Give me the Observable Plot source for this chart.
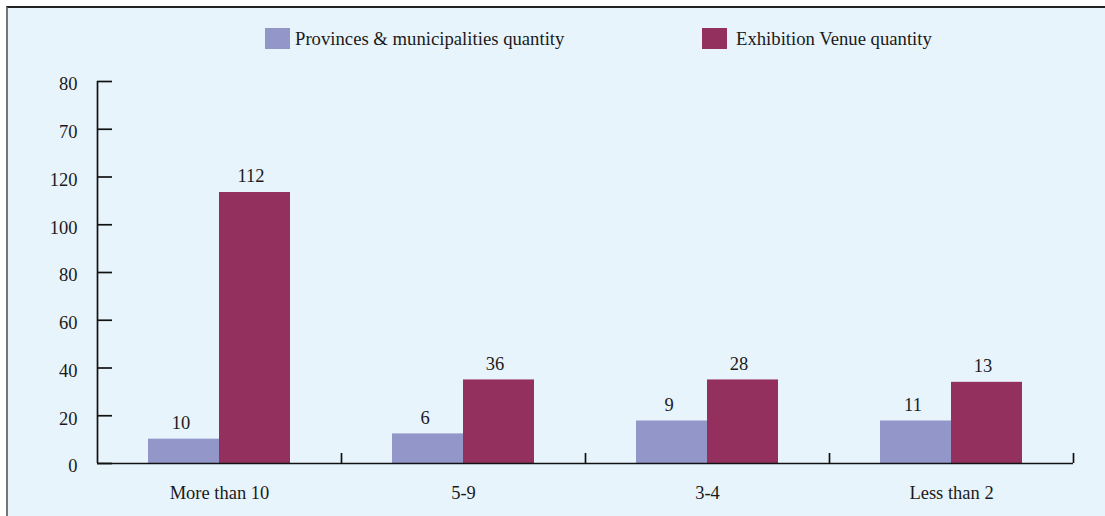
<!DOCTYPE html>
<html><head><meta charset="utf-8">
<script src="https://cdn.jsdelivr.net/npm/d3@7"></script>
<script src="https://cdn.jsdelivr.net/npm/@observablehq/plot@0.6"></script>
<style>
html,body{margin:0;padding:0;background:#fff;}
#frame{position:absolute;left:6px;top:6px;width:1097px;height:508px;border-top:2px solid #222;border-left:2px solid #777;background:#e8f4fc;font-family:"Liberation Serif","Times New Roman",serif;color:#1a1a1a;overflow:hidden;}
.leg{position:absolute;top:20px;height:21px;display:flex;align-items:center;font-size:18.7px;white-space:nowrap;}
.sw{width:25px;height:21px;margin-right:5px;flex:none;}
#chart{position:absolute;left:0;top:60px;}
</style></head>
<body>
<div id="frame">
  <div class="leg" style="left:257px"><div class="sw" style="background:#9296c8"></div><span>Provinces &amp; municipalities quantity</span></div>
  <div class="leg" style="left:694px"><div class="sw" style="background:#93305e;margin-right:9px"></div><span>Exhibition Venue quantity</span></div>
  <div id="chart"></div>
</div>
<script>
const categories = ["More than 10", "5-9", "3-4", "Less than 2"];
const seriesNames = ["Provinces & municipalities quantity", "Exhibition Venue quantity"];
// printed value labels
const provincesLabel = [10, 6, 9, 11];
const venueLabel = [112, 36, 28, 13];
// bar heights as drawn against the axis
const provincesBar = [10.2, 12.4, 17.8, 17.8];
const venueBar = [113.5, 35, 35, 34];
// y-axis tick positions and their printed labels
const yTickValues = [0, 20, 40, 60, 80, 100, 120, 140, 160];
const yTickLabels = ["0", "20", "40", "60", "80", "100", "120", "70", "80"];
const colors = ["#9296c8", "#93305e"];

const prov = categories.map((c, i) => ({cat: c, series: seriesNames[0], h: provincesBar[i], label: provincesLabel[i]}));
const ven = categories.map((c, i) => ({cat: c, series: seriesNames[1], h: venueBar[i], label: venueLabel[i]}));

const chart = Plot.plot({
  width: 1097, height: 448,
  marginLeft: 89, marginRight: 32, marginTop: 13, marginBottom: 53,
  style: {background: "transparent", fontFamily: '"Liberation Serif","Times New Roman",serif', fontSize: "18.5px", color: "#1a1a1a"},
  x: {domain: categories, padding: 0, axis: null, label: null},
  y: {domain: [0, 160], axis: null, label: null},
  marks: [
    Plot.barY(prov, {x: "cat", y: "h", fill: colors[0], insetLeft: 51, insetRight: 122}),
    Plot.barY(ven, {x: "cat", y: "h", fill: colors[1], insetLeft: 122, insetRight: 51}),
    Plot.text(prov, {x: "cat", y: "h", text: "label", dx: -38.5, dy: -16, fontSize: 18.5}),
    Plot.text(ven, {x: "cat", y: "h", text: "label", dx: 31.5, dy: -16, fontSize: 18.5}),
    Plot.ruleY([0], {strokeWidth: 1.7, stroke: "#111"}),
    Plot.ruleX([categories[0]], {dx: -122, y1: 0, y2: 160, strokeWidth: 1.7, stroke: "#111"}),
    Plot.ruleX(categories, {dx: 122, y1: 0, y2: 0, insetTop: -10, strokeWidth: 1.7, stroke: "#111"}),
    Plot.axisY(yTickValues, {tickSize: -15, tickPadding: 0, strokeWidth: 1.7, stroke: "#111", fill: "none", label: null}),
    Plot.axisY(yTickValues, {tickFormat: d => yTickLabels[yTickValues.indexOf(d)], tickSize: 0, tickPadding: 20, stroke: "none", dy: 3, fontSize: 18.5, label: null}),
    Plot.axisX({tickSize: 0, tickPadding: 22, fontSize: 18.5, label: null})
  ]
});
document.getElementById("chart").appendChild(chart);
</script>
</body></html>
